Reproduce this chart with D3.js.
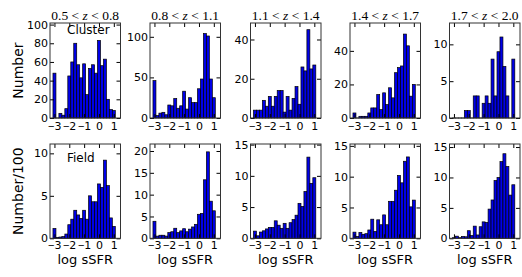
<!DOCTYPE html>
<html>
<head>
<meta charset="utf-8">
<script src="https://cdn.jsdelivr.net/npm/d3@7"></script>
<style>
  @font-face { font-family: "TickMinus"; src: local("Liberation Sans"); unicode-range: U+2212; }
  body { margin: 0; background: #fff; }
  .tick text { font-family: "TickMinus", "DejaVu Sans", sans-serif; font-size: 11px; fill: #000; }
  .tick line { stroke: #000; }
</style>
</head>
<body>
<div id="chart"></div>
<script>
const width = 522;
const height = 277;

// bin edges in log sSFR
const binEdges = [-3.1, -2.9, -2.7, -2.5, -2.3, -2.1, -1.9, -1.7, -1.5, -1.3, -1.1,
                  -0.9, -0.7, -0.5, -0.3, -0.1, 0.1, 0.3, 0.5, 0.7, 0.9, 1.1];
const xTicks = [-3, -2, -1, 0, 1];

const zLow = ["0.5", "0.8", "1.1", "1.4", "1.7"];
const zHigh = ["0.8", "1.1", "1.4", "1.7", "2.0"];

// cluster galaxies (number)
const cluster1 = [48, 0, 5, 3, 10, 45, 60, 80, 57, 43, 58, 25, 53, 57, 48, 83, 56, 63, 20, 9, 8];
const cluster2 = [46, 3, 6, 7, 4, 16, 15, 24, 12, 15, 33, 11, 25, 19, 19, 36, 48, 104, 101, 48, 25];
const cluster3 = [4, 4, 4, 9, 6, 11, 6, 11, 14, 14, 3, 11, 4, 10, 16, 7, 26, 24, 45, 25, 27];
const cluster4 = [3, 0, 1, 1, 1, 3, 6, 6, 14, 5, 15, 8, 18, 12, 27, 30, 31, 50, 43, 13, 20];
const cluster5 = [0, 0, 0, 0, 1, 1, 0, 3, 3, 0, 2, 3, 2, 8, 3, 9, 11, 7, 3, 0, 8];

// field galaxies (number / 100)
const field1 = [1.16, 0.1, 0.15, 0.2, 0.5, 1.6, 2.25, 3.3, 2.75, 2.35, 3.3, 2.25, 5.0, 4.3, 4.3, 6.4, 6.0, 9.2, 6.2, 2.4, 1.4];
const field2 = [3.9, 0.5, 0.7, 0.7, 0.5, 1.3, 1.5, 2.3, 1.3, 1.7, 2.2, 1.5, 2.1, 2.6, 3.2, 5.5, 5.7, 13.4, 19.8, 8.5, 6.3];
const field3 = [1.15, 0.4, 1.0, 1.2, 1.5, 1.75, 1.75, 2.8, 2.1, 1.6, 2.4, 1.6, 2.5, 3.0, 3.7, 5.6, 5.1, 7.5, 13.0, 8.8, 9.7];
const field4 = [1.0, 0.3, 0.95, 0.65, 0.75, 1.35, 3.1, 1.1, 3.0, 2.2, 3.8, 2.2, 6.0, 6.0, 7.8, 10.2, 9.0, 12.5, 13.2, 5.1, 6.2];
const field5 = [0.1, 0.35, 0.1, 0.3, 0.25, 1.25, 0.45, 2.0, 0.55, 1.9, 2.7, 2.6, 4.8, 6.3, 9.5, 10.0, 12.6, 13.9, 11.8, 7.1, 8.8];

const clusterYMax = [101.7, 117, 48.4, 56.6, 12.9];
const fieldYMax = [11.1, 21.6, 15.1, 15.3, 15.5];
const clusterYTicks = [[0, 20, 40, 60, 80, 100], [0, 50, 100], [0, 20, 40], [0, 20, 40], [0, 5, 10]];
const fieldYTicks = [[0, 5, 10], [0, 5, 10, 15, 20], [0, 5, 10, 15], [0, 5, 10, 15], [0, 5, 10, 15]];

const clusterData = [cluster1, cluster2, cluster3, cluster4, cluster5];
const fieldData = [field1, field2, field3, field4, field5];

// layout
const panelLeft = [50, 150, 250.5, 350, 449.5];
const panelW = 70.5;
const rows = [{ top: 23, bottom: 118 }, { top: 144, bottom: 238.3 }];

const svg = d3.select("#chart").append("svg")
    .attr("width", width)
    .attr("height", height);

svg.append("rect").attr("width", width).attr("height", height).attr("fill", "#fff");

function drawPanel(counts, yMax, yTicks, left, row, pad) {
    const x = d3.scaleLinear().domain([-3.3, 1.45]).range([left, left + panelW]);
    const y = d3.scaleLinear().domain([0, yMax]).range([row.bottom, row.top]);
    const g = svg.append("g");

    g.append("g").selectAll("rect")
        .data(counts)
        .enter().append("rect")
        .attr("x", (d, i) => x(binEdges[i]))
        .attr("width", (d, i) => x(binEdges[i + 1]) - x(binEdges[i]))
        .attr("y", d => y(d))
        .attr("height", d => Math.max(y(0) - y(d), 0.01))
        .attr("fill", "#0000e8")
        .attr("stroke", "#000")
        .attr("stroke-width", 0.7);

    const noDomain = sel => sel.select(".domain").remove();

    g.append("g")
        .attr("transform", `translate(0,${row.bottom})`)
        .call(d3.axisBottom(x).tickValues(xTicks).tickSize(-4).tickPadding(pad).tickFormat(d3.format("d")))
        .call(noDomain);
    g.append("g")
        .attr("transform", `translate(0,${row.top})`)
        .call(d3.axisTop(x).tickValues(xTicks).tickSize(-4).tickFormat(""))
        .call(noDomain);
    g.append("g")
        .attr("transform", `translate(${left},0)`)
        .call(d3.axisLeft(y).tickValues(yTicks).tickSize(-4).tickPadding(2).tickFormat(d3.format("d")))
        .call(noDomain);
    g.append("g")
        .attr("transform", `translate(${left + panelW},0)`)
        .call(d3.axisRight(y).tickValues(yTicks).tickSize(-4).tickFormat(""))
        .call(noDomain);

    g.selectAll(".tick text").attr("font-family", null).attr("font-size", null);

    g.append("rect")
        .attr("x", left)
        .attr("y", row.top)
        .attr("width", panelW)
        .attr("height", row.bottom - row.top)
        .attr("fill", "none")
        .attr("stroke", "#333")
        .attr("stroke-width", 1);
}

clusterData.forEach((c, i) => drawPanel(c, clusterYMax[i], clusterYTicks[i], panelLeft[i], rows[0], 4.5));
fieldData.forEach((f, i) => drawPanel(f, fieldYMax[i], fieldYTicks[i], panelLeft[i], rows[1], 2.5));

// redshift titles
zLow.forEach((lo, i) => {
    const t = svg.append("text")
        .attr("x", panelLeft[i] + panelW / 2)
        .attr("y", 19.5)
        .attr("text-anchor", "middle")
        .style("font-family", "'Liberation Serif', serif")
        .style("font-size", "13.5px");
    t.append("tspan").text(lo + " < ");
    t.append("tspan").style("font-style", "italic").text("z");
    t.append("tspan").text(" < " + zHigh[i]);
});

// x labels
panelLeft.forEach(left => {
    svg.append("text")
        .attr("x", left + panelW / 2)
        .attr("y", 263.5)
        .attr("text-anchor", "middle")
        .style("font-family", "'DejaVu Sans', sans-serif")
        .style("font-size", "13px")
        .text("log sSFR");
});

// y labels
svg.append("text")
    .attr("transform", `translate(23,${(rows[0].top + rows[0].bottom) / 2}) rotate(-90)`)
    .attr("text-anchor", "middle")
    .style("font-family", "'DejaVu Sans', sans-serif")
    .style("font-size", "14px")
    .text("Number");

svg.append("text")
    .attr("transform", `translate(23,${(rows[1].top + rows[1].bottom) / 2}) rotate(-90)`)
    .attr("text-anchor", "middle")
    .style("font-family", "'DejaVu Sans', sans-serif")
    .style("font-size", "14px")
    .text("Number/100");

// sample labels
svg.append("text")
    .attr("x", 67).attr("y", 34)
    .style("font-family", "'DejaVu Sans', sans-serif")
    .style("font-size", "12px")
    .text("Cluster");

svg.append("text")
    .attr("x", 67).attr("y", 162)
    .style("font-family", "'DejaVu Sans', sans-serif")
    .style("font-size", "12px")
    .text("Field");
</script>
</body>
</html>
